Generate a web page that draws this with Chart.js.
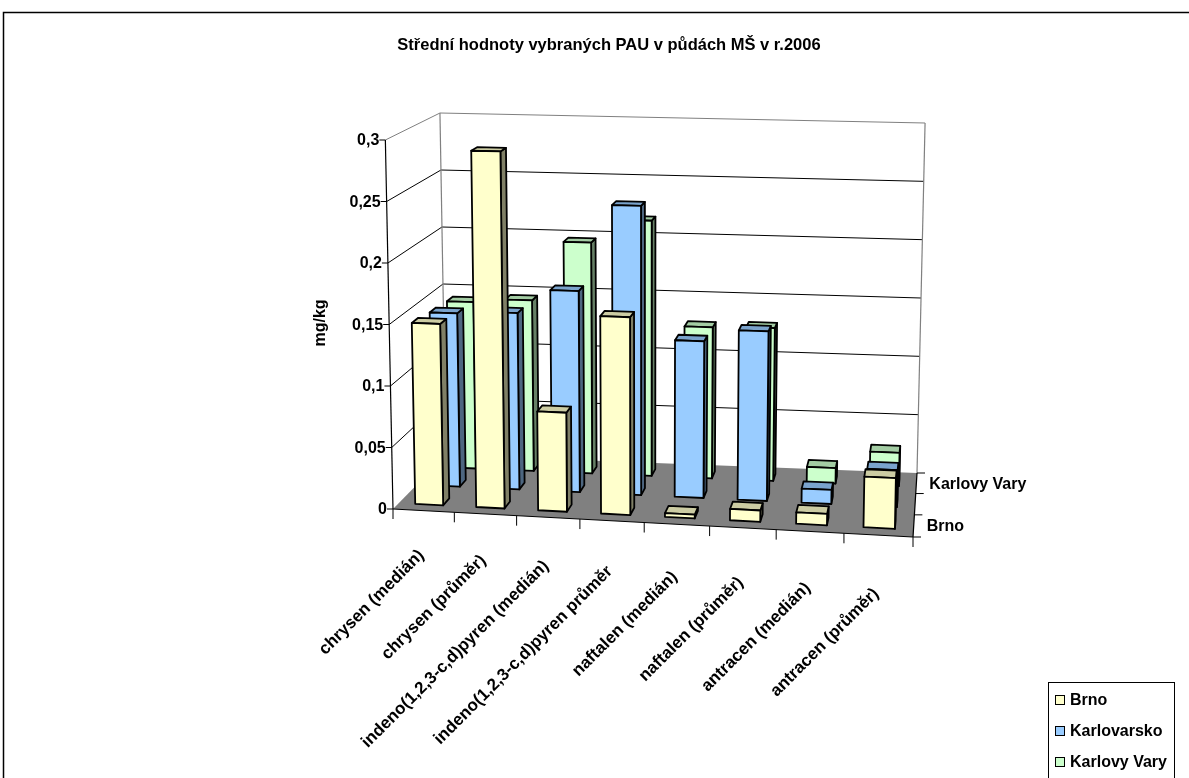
<!DOCTYPE html>
<html>
<head>
<meta charset="utf-8">
<script src="https://cdn.jsdelivr.net/npm/chart.js@4.4.1/dist/chart.umd.min.js"></script>
<style>
  html, body { margin: 0; padding: 0; background: #fff; }
  #wrap { width: 1189px; height: 778px; }
</style>
</head>
<body>
<div id="wrap"><canvas id="chart" width="1189" height="778"></canvas></div>
<script>
// Střední hodnoty PAU v půdách MŠ (mg/kg), r. 2006
const categories = [
  'chrysen (medián)',
  'chrysen (průměr)',
  'indeno(1,2,3-c,d)pyren (medián)',
  'indeno(1,2,3-c,d)pyren průměr',
  'naftalen (medián)',
  'naftalen (průměr)',
  'antracen (medián)',
  'antracen (průměr)'
];
const seriesNames = ['Brno', 'Karlovarsko', 'Karlovy Vary'];
const brno = [0.148, 0.290, 0.080, 0.159, 0.003, 0.009, 0.009, 0.040];
const karlovarsko = [0.145, 0.147, 0.167, 0.239, 0.129, 0.139, 0.0115, 0.030];
const karlovyVary = [0.143, 0.146, 0.197, 0.217, 0.128, 0.129, 0.013, 0.028];
const valueTicks = [0, 0.05, 0.1, 0.15, 0.2, 0.25, 0.3];
const tickLabels = ['0', '0,05', '0,1', '0,15', '0,2', '0,25', '0,3'];
const depthLabels = ['Brno', '', 'Karlovy Vary'];
const seriesColors = ['#FFFFCC', '#99CCFF', '#CCFFCC'];

const FONT = 'bold 16px "Liberation Sans", Arial, sans-serif';
const CAT_FONT = 'bold 17px "Liberation Sans", Arial, sans-serif';

// floor corners (front-left, front-right, back-right, back-left) and wall heights at the corners
const floorQuad = [[393, 509], [913, 537], [917, 473], [446, 455]];
const wallH = { fl: 369, fr: 385, br: 350, bl: 342 };
const tiltX = 648, tiltK = 0.03;
const barWidth = 0.46;   // share of a category slot
const barDepth = 0.12;   // share of the whole floor depth

function makeHomography(q) {
  const [x0, y0] = q[0], [x1, y1] = q[1], [x2, y2] = q[2], [x3, y3] = q[3];
  const dx1 = x1 - x2, dx2 = x3 - x2, dx3 = x0 - x1 + x2 - x3;
  const dy1 = y1 - y2, dy2 = y3 - y2, dy3 = y0 - y1 + y2 - y3;
  const den = dx1 * dy2 - dx2 * dy1;
  const g = (dx3 * dy2 - dx2 * dy3) / den;
  const h = (dx1 * dy3 - dx3 * dy1) / den;
  const a = x1 - x0 + g * x1, b = x3 - x0 + h * x3, c = x0;
  const d = y1 - y0 + g * y1, e = y3 - y0 + h * y3, f = y0;
  return (u, w) => {
    const z = g * u + h * w + 1;
    return [(a * u + b * w + c) / z, (d * u + e * w + f) / z];
  };
}
const homo = makeHomography(floorQuad);

function bilerp(fl, fr, br, bl, u, w) {
  const front = fl + (fr - fl) * u;
  const back = bl + (br - bl) * u;
  return front + (back - front) * w;
}

// u: along categories, w: depth (0 front), f: share of value axis
function project(u, w, f) {
  const q = floorQuad;
  const hp = homo(u, w);
  const bx = bilerp(q[0][0], q[1][0], q[2][0], q[3][0], u, w);
  const by = bilerp(q[0][1], q[1][1], q[2][1], q[3][1], u, w);
  const x = (hp[0] + bx) / 2;
  const y = (hp[1] + by) / 2;
  const H = bilerp(wallH.fl, wallH.fr, wallH.br, wallH.bl, u, w);
  return [x + tiltK * (x - tiltX) * f, y - H * f];
}

function shade(hex, k) {
  const n = parseInt(hex.slice(1), 16);
  const r = Math.round(((n >> 16) & 255) * k);
  const g = Math.round(((n >> 8) & 255) * k);
  const b = Math.round((n & 255) * k);
  return `rgb(${r},${g},${b})`;
}

function poly(ctx, pts, fill, stroke, lw) {
  ctx.beginPath();
  ctx.moveTo(pts[0][0], pts[0][1]);
  for (let i = 1; i < pts.length; i++) ctx.lineTo(pts[i][0], pts[i][1]);
  ctx.closePath();
  if (fill) { ctx.fillStyle = fill; ctx.fill(); }
  if (stroke) { ctx.strokeStyle = stroke; ctx.lineWidth = lw || 1; ctx.stroke(); }
}

function line(ctx, a, b, color, lw) {
  ctx.beginPath();
  ctx.moveTo(a[0], a[1]);
  ctx.lineTo(b[0], b[1]);
  ctx.strokeStyle = color;
  ctx.lineWidth = lw || 1;
  ctx.stroke();
}

const bar3d = {
  id: 'bar3d',
  beforeDraw(chart) {
    const ctx = chart.ctx;
    ctx.save();
    ctx.fillStyle = '#fff';
    ctx.fillRect(0, 0, chart.width, chart.height);
    ctx.restore();
  },
  beforeDatasetsDraw(chart) {
    const ctx = chart.ctx;
    const xs = chart.scales.x, ys = chart.scales.y;
    const uOf = px => (px - xs.left) / (xs.right - xs.left);
    const fOf = v => (ys.bottom - ys.getPixelForValue(v)) / (ys.bottom - ys.top);
    const slot = uOf(xs.getPixelForValue(1)) - uOf(xs.getPixelForValue(0));
    const nRows = chart.data.datasets.length;

    ctx.save();
    ctx.lineJoin = 'round';

    // walls: gridlines on side and back wall
    valueTicks.forEach(v => {
      const f = fOf(v);
      if (f === 0) return;
      const col = f >= 0.999 ? '#808080' : '#000';
      ctx.beginPath();
      const a = project(0, 0, f), b = project(0, 1, f), c = project(1, 1, f);
      ctx.moveTo(a[0], a[1]); ctx.lineTo(b[0], b[1]); ctx.lineTo(c[0], c[1]);
      ctx.strokeStyle = col; ctx.lineWidth = 1; ctx.stroke();
    });
    line(ctx, project(0, 1, 0), project(0, 1, 1), '#808080', 1.2);
    line(ctx, project(1, 1, 0), project(1, 1, 1), '#808080', 1.2);

    // floor
    poly(ctx, [project(0, 0, 0), project(1, 0, 0), project(1, 1, 0), project(0, 1, 0)], '#808080');
    line(ctx, project(0, 0, 0), project(1, 0, 0), '#000', 1.2);
    line(ctx, project(1, 0, 0), project(1, 1, 0), '#000', 1.2);

    // value axis
    line(ctx, project(0, 0, 0), project(0, 0, 1), '#000', 1.2);
    ctx.font = FONT;
    ctx.fillStyle = '#000';
    ctx.textAlign = 'right';
    ctx.textBaseline = 'middle';
    valueTicks.forEach((v, i) => {
      const p = project(0, 0, fOf(v));
      line(ctx, [p[0] - 6, p[1]], p, '#000', 1);
      ctx.fillText(tickLabels[i], p[0] - 6, p[1] + 1);
    });

    // category ticks
    for (let i = 0; i <= categories.length; i++) {
      const p = project(i * slot, 0, 0);
      line(ctx, p, [p[0], p[1] + 10], '#000', 1);
    }

    // depth ticks and labels
    ctx.textAlign = 'left';
    for (let r = 0; r <= nRows; r++) {
      const p = project(1, r / nRows, 0);
      line(ctx, p, [p[0] + 8, p[1]], '#000', 1);
    }
    depthLabels.forEach((lab, r) => {
      if (!lab) return;
      const p = project(1, (r + 0.5) / nRows, 0);
      ctx.fillText(lab, p[0] + 13, p[1] + 1);
    });

    // bars, back row first, left to right
    for (let r = nRows - 1; r >= 0; r--) {
      const ds = chart.data.datasets[r];
      const wc = (r + 0.5) / nRows;
      const w0 = wc - barDepth / 2, w1 = wc + barDepth / 2;
      ds.data.forEach((v, i) => {
        const uc = uOf(xs.getPixelForValue(i));
        const u0 = uc - slot * barWidth / 2, u1 = uc + slot * barWidth / 2;
        const f = fOf(v);
        const A = project(u0, w0, 0), B = project(u1, w0, 0);
        const C = project(u1, w0, f), D = project(u0, w0, f);
        const E = project(u0, w1, f), F = project(u1, w1, f), G = project(u1, w1, 0);
        const col = ds.backgroundColor;
        poly(ctx, [B, G, F, C], shade(col, 0.5), '#000', 1.8);
        poly(ctx, [D, C, F, E], shade(col, 0.8), '#000', 1.8);
        poly(ctx, [A, B, C, D], col, '#000', 1.8);
      });
    }

    // category labels
    ctx.font = CAT_FONT;
    ctx.textAlign = 'right';
    ctx.textBaseline = 'middle';
    ctx.fillStyle = '#000';
    chart.data.labels.forEach((lab, i) => {
      const u = uOf(xs.getPixelForValue(i));
      const p = project(u, 0, 0);
      ctx.save();
      ctx.translate(p[0] - 2, p[1] + 41 + 16 * u);
      ctx.rotate(-Math.PI / 4);
      ctx.fillText(lab, 0, 0);
      ctx.restore();
    });

    ctx.restore();
    return false;
  },
  afterDraw(chart) {
    const ctx = chart.ctx;
    ctx.save();
    // outer frame
    ctx.strokeStyle = '#000';
    ctx.lineWidth = 1.5;
    ctx.strokeRect(3.5, 12.5, 1200, 800);

    ctx.font = 'bold 16.5px "Liberation Sans", Arial, sans-serif';
    ctx.fillStyle = '#000';
    ctx.textAlign = 'center';
    ctx.textBaseline = 'middle';
    ctx.fillText('Střední hodnoty vybraných PAU v půdách MŠ v r.2006', 609, 45);

    // axis title
    ctx.font = FONT;
    ctx.save();
    ctx.translate(321, 323);
    ctx.rotate(-Math.PI / 2);
    ctx.fillText('mg/kg', 0, 0);
    ctx.restore();

    // legend
    ctx.lineWidth = 1;
    ctx.strokeRect(1048.5, 682.5, 126, 110);
    ctx.textAlign = 'left';
    chart.data.datasets.forEach((ds, i) => {
      const y = 700 + i * 31;
      ctx.fillStyle = ds.backgroundColor;
      ctx.fillRect(1055.5, y - 4.5, 9, 9);
      ctx.strokeRect(1055.5, y - 4.5, 9, 9);
      ctx.fillStyle = '#000';
      ctx.fillText(ds.label, 1070, y + 1);
    });
    ctx.restore();
  }
};

new Chart(document.getElementById('chart'), {
  type: 'bar',
  data: {
    labels: categories,
    datasets: [
      { label: seriesNames[0], data: brno, backgroundColor: seriesColors[0] },
      { label: seriesNames[1], data: karlovarsko, backgroundColor: seriesColors[1] },
      { label: seriesNames[2], data: karlovyVary, backgroundColor: seriesColors[2] }
    ]
  },
  options: {
    responsive: false,
    animation: false,
    devicePixelRatio: 1,
    events: [],
    layout: { padding: { left: 393, right: 276, top: 140, bottom: 269 } },
    plugins: { legend: { display: false }, title: { display: false }, tooltip: { enabled: false } },
    scales: {
      x: { display: false },
      y: { display: false, min: 0, max: 0.3, ticks: { stepSize: 0.05 } }
    }
  },
  plugins: [bar3d]
});
</script>
</body>
</html>
